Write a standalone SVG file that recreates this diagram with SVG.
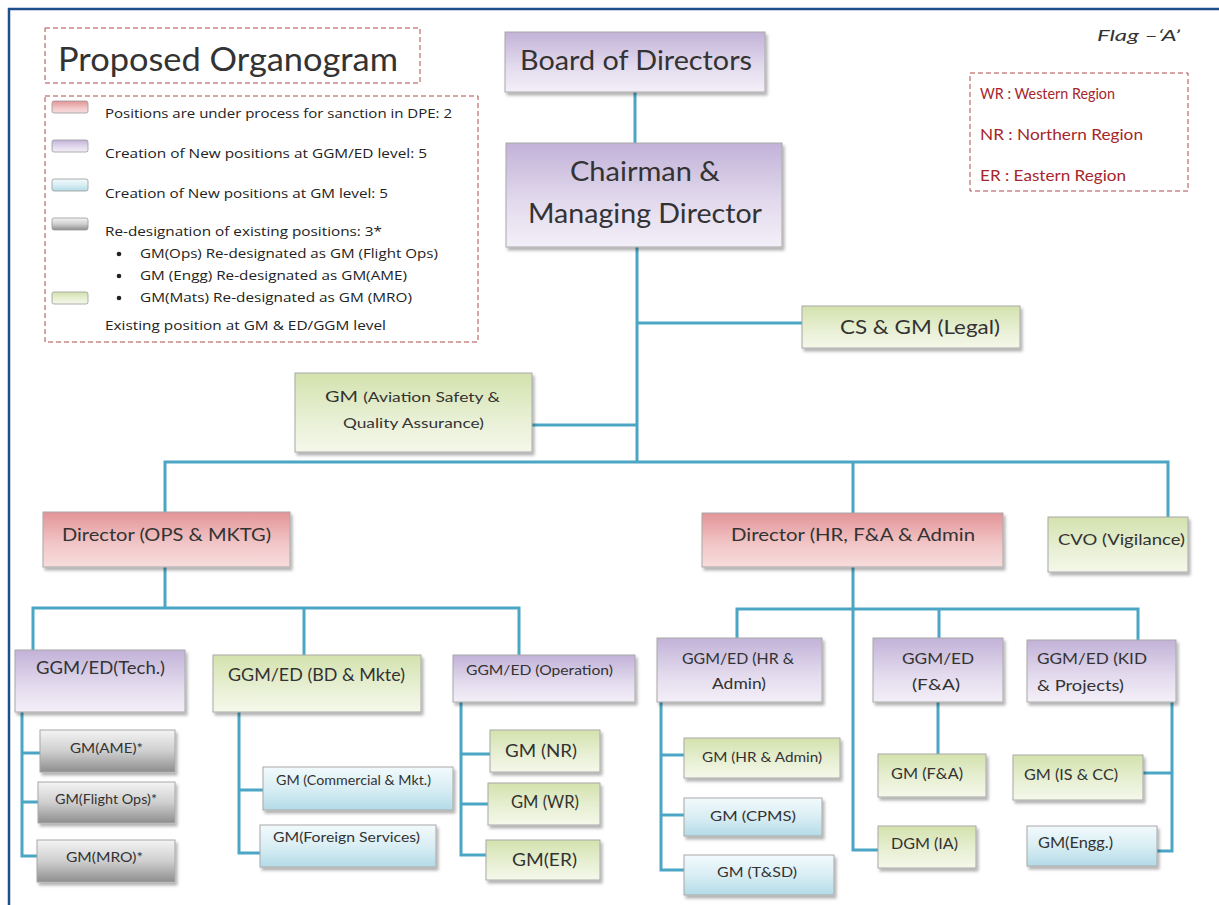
<svg xmlns="http://www.w3.org/2000/svg" width="1219" height="905" viewBox="0 0 1219 905">
<defs>
<linearGradient id="gP" x1="0" y1="0" x2="0" y2="1"><stop offset="0" stop-color="#c2b2d8"/><stop offset="0.6" stop-color="#e4dcee"/><stop offset="1" stop-color="#f3eff8"/></linearGradient>
<linearGradient id="gR" x1="0" y1="0" x2="0" y2="1"><stop offset="0" stop-color="#e39497"/><stop offset="0.6" stop-color="#f2c8c9"/><stop offset="1" stop-color="#f7dcdc"/></linearGradient>
<linearGradient id="gG" x1="0" y1="0" x2="0" y2="1"><stop offset="0" stop-color="#d3e2ad"/><stop offset="0.6" stop-color="#e9f0d6"/><stop offset="1" stop-color="#f4f8ea"/></linearGradient>
<linearGradient id="gC" x1="0" y1="0" x2="0" y2="1"><stop offset="0" stop-color="#f2fafc"/><stop offset="0.5" stop-color="#d9eef4"/><stop offset="1" stop-color="#b3dbe7"/></linearGradient>
<linearGradient id="gK" x1="0" y1="0" x2="0" y2="1"><stop offset="0" stop-color="#f4f4f4"/><stop offset="0.5" stop-color="#cfcfcf"/><stop offset="1" stop-color="#8e8e8e"/></linearGradient>
<filter id="sh" x="-10%" y="-10%" width="125%" height="140%"><feDropShadow dx="2" dy="3" stdDeviation="1.5" flood-color="#000" flood-opacity="0.3"/></filter>
<style>
.n{stroke:#a8a8a8;stroke-width:1;filter:url(#sh)}
.p{fill:url(#gP)} .r{fill:url(#gR)} .g{fill:url(#gG)} .c{fill:url(#gC)} .k{fill:url(#gK)}
text{font-family:Lato,"Open Sans","Liberation Sans",sans-serif;fill:#333}
.dash{fill:none;stroke:#b04a4a;stroke-width:1;stroke-dasharray:5 3}
.lg{font-family:"Open Sans","Liberation Sans",sans-serif;font-size:12.5px;fill:#222}
.reg{font-size:15px;fill:#a6262b}
.sw{stroke:#999;stroke-width:0.8}
#conn path{fill:none;stroke:#4aa6c4;stroke-width:3}
</style>
</defs>
<rect width="1219" height="905" fill="#fff"/>
<path d="M9 905 V9 H1219" fill="none" stroke="#1f4e8c" stroke-width="2.5"/>

<g id="title">
<rect class="dash" x="45" y="28" width="375" height="55"/>
<text x="58" y="71" font-size="32" textLength="340" lengthAdjust="spacingAndGlyphs">Proposed Organogram</text>
</g>

<g id="legend">
<rect class="dash" x="45" y="96" width="433" height="246"/>
<rect class="sw r" x="52" y="101" width="36" height="12" rx="2"/>
<rect class="sw p" x="52" y="140" width="36" height="12" rx="2"/>
<rect class="sw c" x="52" y="179" width="36" height="12" rx="2"/>
<rect class="sw k" x="52" y="218" width="36" height="12" rx="2"/>
<rect class="sw g" x="52" y="292" width="36" height="12" rx="2"/>
<text class="lg" x="105" y="118" textLength="347" lengthAdjust="spacingAndGlyphs">Positions  are under  process for sanction  in DPE: 2</text>
<text class="lg" x="105" y="158" textLength="322" lengthAdjust="spacingAndGlyphs">Creation of New positions  at GGM/ED level: 5</text>
<text class="lg" x="105" y="198" textLength="283" lengthAdjust="spacingAndGlyphs">Creation of New positions  at GM level: 5</text>
<text class="lg" x="105" y="236" textLength="277" lengthAdjust="spacingAndGlyphs">Re-designation  of existing positions:  3*</text>
<circle cx="119" cy="254" r="2.3" fill="#222"/>
<text class="lg" x="140" y="258" textLength="298" lengthAdjust="spacingAndGlyphs">GM(Ops) Re-designated  as GM (Flight Ops)</text>
<circle cx="119" cy="276" r="2.3" fill="#222"/>
<text class="lg" x="140" y="280" textLength="267" lengthAdjust="spacingAndGlyphs">GM (Engg) Re-designated  as GM(AME)</text>
<circle cx="119" cy="298" r="2.3" fill="#222"/>
<text class="lg" x="140" y="302" textLength="272" lengthAdjust="spacingAndGlyphs">GM(Mats) Re-designated  as GM (MRO)</text>
<text class="lg" x="105" y="330" textLength="281" lengthAdjust="spacingAndGlyphs">Existing position  at GM &amp; ED/GGM  level</text>
</g>

<g id="flag">
<text x="1097" y="41" font-size="16" font-style="italic" fill="#222" textLength="83" lengthAdjust="spacingAndGlyphs">Flag –‘A’</text>
</g>

<g id="regions">
<rect class="dash" x="970" y="73" width="218" height="118"/>
<text class="reg" x="980" y="99" textLength="135" lengthAdjust="spacingAndGlyphs">WR : Western Region</text>
<text class="reg" x="980" y="140" textLength="163" lengthAdjust="spacingAndGlyphs">NR : Northern Region</text>
<text class="reg" x="980" y="181" textLength="146" lengthAdjust="spacingAndGlyphs">ER : Eastern Region</text>
</g>

<g id="conn">
<path d="M635 92 V143"/>
<path d="M637 247 V462"/>
<path d="M637 323 H802"/>
<path d="M532 425 H637"/>
<path d="M165 513 V462 H1168 V518"/>
<path d="M853 462 V513"/>
<path d="M165 567 V608"/>
<path d="M33 650 V608 H519 V655"/>
<path d="M304 608 V655"/>
<path d="M853 567 V850 H878"/>
<path d="M737 638 V609 H1138 V640"/>
<path d="M939 609 V638"/>
<path d="M22 712 V856 H37 M22 753 H40 M22 802 H38"/>
<path d="M239 712 V853 H260 M239 790 H263"/>
<path d="M461 702 V855 H486 M461 754 H490 M461 804 H488"/>
<path d="M661 702 V870 H684 M661 755 H684 M661 815 H684"/>
<path d="M938 702 V754"/>
<path d="M1172 702 V851 H1157 M1172 773 H1143"/>
</g>

<g id="board"><rect class="n p" x="505" y="32" width="260" height="60"/><text x="520" y="70" font-size="27" textLength="232" lengthAdjust="spacingAndGlyphs">Board of Directors</text></g>
<g id="cmd"><rect class="n p" x="506" y="143" width="276" height="104"/><text x="570" y="181" font-size="27" textLength="150" lengthAdjust="spacingAndGlyphs">Chairman &amp;</text><text x="528" y="223" font-size="27" textLength="234" lengthAdjust="spacingAndGlyphs">Managing Director</text></g>
<g id="csgm"><rect class="n g" x="802" y="306" width="218" height="42"/><text x="840" y="334" font-size="20" textLength="160" lengthAdjust="spacingAndGlyphs">CS &amp; GM (Legal)</text></g>
<g id="gmasqa"><rect class="n g" x="295" y="373" width="237" height="79"/><text x="325" y="402" font-size="14" textLength="175" lengthAdjust="spacingAndGlyphs"><tspan font-size="16">GM </tspan>(Aviation Safety &amp;</text><text x="343" y="428" font-size="14" textLength="141" lengthAdjust="spacingAndGlyphs">Quality Assurance)</text></g>

<g id="dirops"><rect class="n r" x="43" y="512" width="247" height="55"/><text x="62" y="541" font-size="18" textLength="209" lengthAdjust="spacingAndGlyphs">Director (OPS &amp; MKTG)</text></g>
<g id="dirhr"><rect class="n r" x="702" y="513" width="301" height="54"/><text x="731" y="541" font-size="18" textLength="244" lengthAdjust="spacingAndGlyphs">Director (HR, F&amp;A &amp; Admin</text></g>
<g id="cvo"><rect class="n g" x="1048" y="517" width="140" height="55"/><text x="1058" y="545" font-size="15" textLength="127" lengthAdjust="spacingAndGlyphs">CVO (Vigilance)</text></g>

<g id="ggmtech"><rect class="n p" x="15" y="650" width="170" height="62"/><text x="36" y="674" font-size="18" textLength="129" lengthAdjust="spacingAndGlyphs">GGM/ED(Tech.)</text></g>
<g id="gmame"><rect class="n k" x="40" y="730" width="135" height="42"/><text x="70" y="753" font-size="13" textLength="73" lengthAdjust="spacingAndGlyphs">GM(AME)*</text></g>
<g id="gmflight"><rect class="n k" x="38" y="782" width="137" height="41"/><text x="55" y="804" font-size="13" textLength="102" lengthAdjust="spacingAndGlyphs">GM(Flight Ops)*</text></g>
<g id="gmmro"><rect class="n k" x="37" y="840" width="138" height="42"/><text x="66" y="862" font-size="13" textLength="77" lengthAdjust="spacingAndGlyphs">GM(MRO)*</text></g>

<g id="ggmbd"><rect class="n g" x="213" y="655" width="208" height="57"/><text x="228" y="681" font-size="18" textLength="177" lengthAdjust="spacingAndGlyphs">GGM/ED (BD &amp; Mkte)</text></g>
<g id="gmcomm"><rect class="n c" x="263" y="767" width="190" height="43"/><text x="276" y="785" font-size="13" textLength="155" lengthAdjust="spacingAndGlyphs">GM (Commercial &amp; Mkt.)</text></g>
<g id="gmforeign"><rect class="n c" x="260" y="825" width="176" height="42"/><text x="273" y="842" font-size="13.5" textLength="147" lengthAdjust="spacingAndGlyphs">GM(Foreign Services)</text></g>

<g id="ggmop"><rect class="n p" x="453" y="655" width="182" height="47"/><text x="466" y="675" font-size="14" textLength="147" lengthAdjust="spacingAndGlyphs">GGM/ED (Operation)</text></g>
<g id="gmnr"><rect class="n g" x="490" y="730" width="110" height="42"/><text x="505" y="757" font-size="17" textLength="72" lengthAdjust="spacingAndGlyphs">GM (NR)</text></g>
<g id="gmwr"><rect class="n g" x="488" y="783" width="112" height="42"/><text x="511" y="808" font-size="17" textLength="68" lengthAdjust="spacingAndGlyphs">GM (WR)</text></g>
<g id="gmer"><rect class="n g" x="486" y="840" width="114" height="40"/><text x="512" y="866" font-size="17" textLength="65" lengthAdjust="spacingAndGlyphs">GM(ER)</text></g>

<g id="ggmhr"><rect class="n p" x="657" y="638" width="165" height="64"/><text x="682" y="664" font-size="15" textLength="112" lengthAdjust="spacingAndGlyphs">GGM/ED (HR &amp;</text><text x="712" y="689" font-size="15" textLength="54" lengthAdjust="spacingAndGlyphs">Admin)</text></g>
<g id="gmhr"><rect class="n g" x="684" y="738" width="156" height="40"/><text x="702" y="762" font-size="13" textLength="120" lengthAdjust="spacingAndGlyphs">GM (HR &amp; Admin)</text></g>
<g id="gmcpms"><rect class="n c" x="684" y="798" width="138" height="38"/><text x="710" y="821" font-size="14" textLength="86" lengthAdjust="spacingAndGlyphs">GM (CPMS)</text></g>
<g id="gmtsd"><rect class="n c" x="684" y="855" width="150" height="40"/><text x="717" y="877" font-size="14" textLength="80" lengthAdjust="spacingAndGlyphs">GM (T&amp;SD)</text></g>

<g id="ggmfa"><rect class="n p" x="873" y="638" width="130" height="64"/><text x="902" y="664" font-size="16" textLength="72" lengthAdjust="spacingAndGlyphs">GGM/ED</text><text x="912" y="690" font-size="16" textLength="48" lengthAdjust="spacingAndGlyphs">(F&amp;A)</text></g>
<g id="gmfa"><rect class="n g" x="878" y="754" width="108" height="43"/><text x="891" y="779" font-size="15" textLength="72" lengthAdjust="spacingAndGlyphs">GM (F&amp;A)</text></g>
<g id="dgmia"><rect class="n g" x="878" y="826" width="98" height="42"/><text x="891" y="849" font-size="15" textLength="67" lengthAdjust="spacingAndGlyphs">DGM (IA)</text></g>

<g id="ggmkid"><rect class="n p" x="1027" y="640" width="149" height="62"/><text x="1037" y="664" font-size="16" textLength="110" lengthAdjust="spacingAndGlyphs">GGM/ED (KID</text><text x="1037" y="691" font-size="16" textLength="87" lengthAdjust="spacingAndGlyphs">&amp; Projects)</text></g>
<g id="gmiscc"><rect class="n g" x="1013" y="755" width="130" height="45"/><text x="1024" y="780" font-size="15" textLength="94" lengthAdjust="spacingAndGlyphs">GM (IS &amp; CC)</text></g>
<g id="gmengg"><rect class="n c" x="1027" y="826" width="130" height="40"/><text x="1038" y="848" font-size="15" textLength="75" lengthAdjust="spacingAndGlyphs">GM(Engg.)</text></g>
</svg>
